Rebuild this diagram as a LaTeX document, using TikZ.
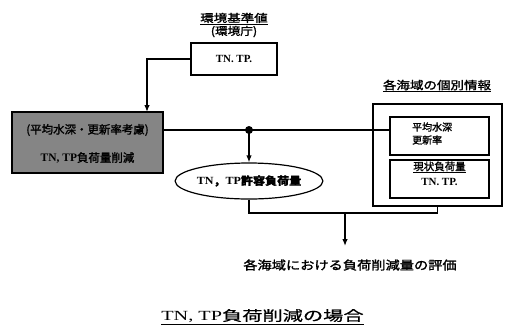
\documentclass[tikz,border=0pt]{standalone}
\usepackage{fontspec}
\setmainfont{Liberation Serif}
\newfontfamily\cjk[FakeBold=1.5]{Noto Sans CJK JP}
\newfontfamily\cjkn[FakeBold=1.5]{Noto Sans CJK JP}
\newfontfamily\cjkr[FakeBold=0.6]{Noto Sans CJK JP}
\usetikzlibrary{shapes.geometric,arrows.meta}
\tikzset{
  boxnode/.style={draw=black, line width=1.2bp, inner sep=0pt, rectangle},
  txt/.style={inner sep=0pt, align=center},
  conn/.style={line width=1.3bp},
  arr/.style={line width=1.3bp, -{Latex[length=7bp,width=5.5bp]}},
}
\begin{document}
\begin{tikzpicture}[x=1bp,y=-1bp]
\useasboundingbox (0,0) rectangle (509,331);
\fill[white] (0,0) rectangle (509,331);

% top label and box
\node[txt, font=\cjk\fontsize{11}{13}\selectfont] (envlab) at (234,25)
  {\scalebox{1.23}[1]{\underline{環境基準値}}\\\scalebox{1.15}[1]{(環境庁)}};
\node[boxnode, minimum width=86bp, minimum height=32bp] (envbox) at (234,59)
  {\bfseries\fontsize{11}{13}\selectfont TN. TP.};

% gray box
\node[boxnode, fill=black!48, minimum width=151bp, minimum height=61bp] (gray) at (87.5,142.5) {};
\node[txt, font=\cjk\fontsize{11.5}{13}\selectfont] (gt1) at (87.5,130) {(平均水深・更新率考慮)};
\node[txt, font=\cjk\fontsize{11.5}{13}\selectfont] (gt2) at (87.5,158) {{\rmfamily\bfseries TN,\ TP}負荷量削減};

% junction
\coordinate (j) at (249,130);
\fill (j) circle (4bp);

% ellipse
\node[draw, ellipse, line width=1.2bp, minimum width=130bp, minimum height=36bp, inner sep=0pt] (ell) at (249,181)
  {\scalebox{1.1}[1]{\fontsize{11}{13}\selectfont\bfseries TN{\cjk ，}TP{\cjk 許容負荷量}}};

% right side
\node[txt, font=\cjk\fontsize{11.3}{13}\selectfont] (outlab) at (437,86) {\scalebox{1.2}[1]{\underline{各海域の個別情報}}};
\node[boxnode, minimum width=129bp, minimum height=102bp] (outer) at (437.5,155) {};
\node[boxnode, minimum width=99bp, minimum height=38bp] (in1) at (439.5,136) {};
\node[txt, align=left, anchor=west, font=\cjkn\fontsize{10}{13}\selectfont] (in1t) at (412,133.5) {平均水深\\更新率};
\node[boxnode, minimum width=99bp, minimum height=38bp] (in2) at (439.5,179) {};
\node[txt, font=\cjkn\fontsize{10.5}{15}\selectfont] (in2t) at (439.5,173.5) {\underline{現状負荷量}\\{\rmfamily\bfseries\fontsize{11}{15}\selectfont TN. TP.}};

% bottom texts
\node[txt, font=\cjk\fontsize{12}{14}\selectfont] (res) at (350,265) {\scalebox{1.19}[1]{各海域における負荷削減量の評価}};
\node[txt] (title) at (262.5,317) {\scalebox{1.45}[1]{\fontsize{14}{16}\selectfont\underline{TN, TP{\cjkr 負荷削減の場合}}}};

% connectors
\coordinate (a1) at (147,112);
\draw[arr] (envbox.west) -| (a1);
\draw[conn] (gray.east |- j) -- (in1.west |- j);
\draw[arr] (j) -- (ell.north);
\coordinate (m) at (249,213);
\coordinate (k) at (345,213);
\coordinate (kt) at (345,246);
\draw[conn] (ell.south) -- (m) -| (outer.south);
\draw[arr] (k) -- (kt);
\end{tikzpicture}
\end{document}
